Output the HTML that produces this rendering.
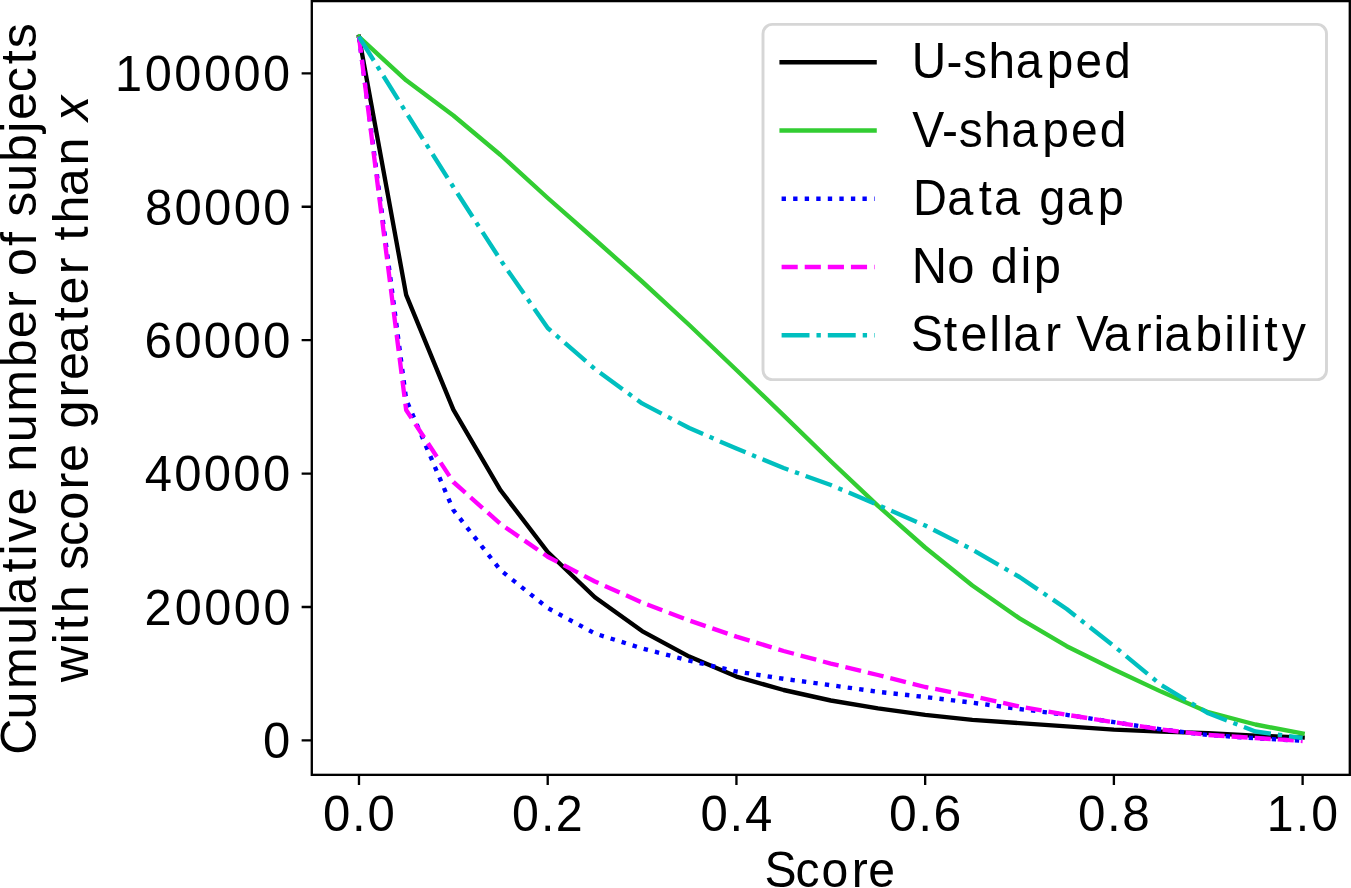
<!DOCTYPE html>
<html><head><meta charset="utf-8"><title>Cumulative number of subjects vs score</title>
<style>
html,body{margin:0;padding:0;background:#fff;}
body{width:1351px;height:888px;overflow:hidden;}
svg{display:block;}
text{font-family:"Liberation Sans",sans-serif;fill:#000;font-kerning:none;}
</style></head>
<body>
<svg width="1351" height="888" viewBox="0 0 1351 888">
<rect x="0" y="0" width="1351" height="888" fill="#ffffff"/>
<clipPath id="ax"><rect x="311.8" y="1.1" width="1038.0" height="773.75"/></clipPath>
<g clip-path="url(#ax)">
<polyline points="358.98,36.80 406.16,294.80 453.34,409.70 500.53,490.30 547.71,552.00 594.89,597.30 642.07,631.10 689.25,656.60 736.44,676.60 783.62,690.00 830.80,700.50 877.98,708.40 925.16,714.90 972.35,719.80 1019.53,723.10 1066.71,726.40 1113.89,729.60 1161.07,731.60 1208.26,733.10 1255.44,735.70 1302.62,737.60" fill="none" stroke="#000000" stroke-width="4.36" stroke-linejoin="round" stroke-linecap="square"/>
<polyline points="358.98,36.80 406.16,80.30 453.34,115.50 500.53,155.00 547.71,198.00 594.89,239.50 642.07,281.50 689.25,325.00 736.44,370.00 783.62,415.40 830.80,461.20 877.98,505.80 925.16,547.50 972.35,585.50 1019.53,618.40 1066.71,646.20 1113.89,669.50 1161.07,691.60 1208.26,712.20 1255.44,724.50 1302.62,733.50" fill="none" stroke="#32cd32" stroke-width="4.36" stroke-linejoin="round" stroke-linecap="square"/>
<polyline points="358.98,36.80 406.16,399.50 453.34,510.00 500.53,570.20 547.71,608.00 594.89,633.50 642.07,648.40 689.25,660.60 736.44,671.50 783.62,678.80 830.80,685.20 877.98,691.80 925.16,697.00 972.35,702.70 1019.53,709.00 1066.71,714.80 1113.89,722.20 1161.07,729.40 1208.26,735.00 1255.44,738.20 1302.62,740.80" fill="none" stroke="#0000ff" stroke-width="4.36" stroke-linejoin="round" stroke-linecap="butt" stroke-dasharray="4.36,7.19"/>
<polyline points="358.98,36.80 406.16,410.00 453.34,482.00 500.53,524.00 547.71,556.70 594.89,581.50 642.07,602.50 689.25,620.50 736.44,636.60 783.62,651.00 830.80,663.60 877.98,675.00 925.16,687.00 972.35,696.20 1019.53,706.50 1066.71,714.80 1113.89,722.20 1161.07,729.40 1208.26,735.00 1255.44,738.00 1302.62,741.00" fill="none" stroke="#ff00ff" stroke-width="4.36" stroke-linejoin="round" stroke-linecap="butt" stroke-dasharray="16.13,6.98"/>
<polyline points="358.98,36.80 406.16,112.50 453.34,187.00 500.53,260.00 547.71,328.00 594.89,369.00 642.07,403.40 689.25,428.00 736.44,448.60 783.62,468.00 830.80,485.00 877.98,505.00 925.16,525.50 972.35,549.60 1019.53,577.00 1066.71,609.00 1113.89,646.00 1161.07,685.00 1208.26,713.30 1255.44,731.50 1302.62,738.00" fill="none" stroke="#00bfbf" stroke-width="4.36" stroke-linejoin="round" stroke-linecap="butt" stroke-dasharray="27.90,6.98,4.36,6.98"/>
</g>
<rect x="311.8" y="1.1" width="1038.0" height="773.75" fill="none" stroke="#000" stroke-width="2.33" stroke-linejoin="miter"/>
<path d="M358.98,774.85V785.02M547.71,774.85V785.02M736.44,774.85V785.02M925.16,774.85V785.02M1113.89,774.85V785.02M1302.62,774.85V785.02M311.80,740.40H301.63M311.80,606.99H301.63M311.80,473.58H301.63M311.80,340.17H301.63M311.80,206.76H301.63M311.80,73.35H301.63" stroke="#000" stroke-width="2.33" fill="none"/>
<rect x="763.0" y="24.4" width="563.50" height="355.20" rx="9.3" ry="9.3" fill="#ffffff" fill-opacity="0.8" stroke="#cccccc" stroke-opacity="0.8" stroke-width="2.9"/>
<path d="M781.6,62.2H874.6" fill="none" stroke="#000000" stroke-width="4.36" stroke-linejoin="round" stroke-linecap="square"/>
<path d="M781.6,130.45H874.6" fill="none" stroke="#32cd32" stroke-width="4.36" stroke-linejoin="round" stroke-linecap="square"/>
<path d="M781.6,198.7H874.6" fill="none" stroke="#0000ff" stroke-width="4.36" stroke-linejoin="round" stroke-linecap="butt" stroke-dasharray="4.36,7.19"/>
<path d="M781.6,266.95H874.6" fill="none" stroke="#ff00ff" stroke-width="4.36" stroke-linejoin="round" stroke-linecap="butt" stroke-dasharray="16.13,6.98"/>
<path d="M781.6,335.2H874.6" fill="none" stroke="#00bfbf" stroke-width="4.36" stroke-linejoin="round" stroke-linecap="butt" stroke-dasharray="27.90,6.98,4.36,6.98"/>
<text transform="scale(0.9817,1)" y="91.35" font-size="49.6" xml:space="preserve"><tspan x="117.03 147.42 177.55 207.69 237.82 267.96">100000</tspan></text>
<text transform="scale(0.9906,1)" y="224.60" font-size="49.6" xml:space="preserve"><tspan x="146.34 176.21 206.07 235.94 265.80">80000</tspan></text>
<text transform="scale(0.9952,1)" y="358.10" font-size="49.6" xml:space="preserve"><tspan x="145.26 174.98 204.71 234.44 264.16">60000</tspan></text>
<text transform="scale(0.9885,1)" y="491.35" font-size="49.6" xml:space="preserve"><tspan x="146.31 176.24 206.17 236.10 266.02">40000</tspan></text>
<text transform="scale(0.9816,1)" y="624.60" font-size="49.6" xml:space="preserve"><tspan x="147.18 177.94 208.08 238.22 268.36">20000</tspan></text>
<text transform="scale(0.9885,1)" y="758.10" font-size="49.6" xml:space="preserve"><tspan x="266.15">0</tspan></text>
<text transform="scale(0.9909,1)" y="830.60" font-size="49.6" xml:space="preserve"><tspan x="326.03 355.31 370.81">0.0</tspan></text>
<text transform="scale(0.9751,1)" y="830.60" font-size="49.6" xml:space="preserve"><tspan x="525.09 554.73 569.96">0.2</tspan></text>
<text transform="scale(0.9909,1)" y="830.60" font-size="49.6" xml:space="preserve"><tspan x="707.02 736.29 751.79">0.4</tspan></text>
<text transform="scale(1.0063,1)" y="830.60" font-size="49.6" xml:space="preserve"><tspan x="883.51 912.44 927.60">0.6</tspan></text>
<text transform="scale(0.9957,1)" y="830.60" font-size="49.6" xml:space="preserve"><tspan x="1082.64 1111.81 1127.20">0.8</tspan></text>
<text transform="scale(0.9719,1)" y="830.60" font-size="49.6" xml:space="preserve"><tspan x="1303.39 1333.35 1349.28">1.0</tspan></text>
<text transform="scale(0.9763,1)" y="887.25" font-size="49.3" xml:space="preserve"><tspan x="783.18 814.69 841.54 872.32 889.40">Score</tspan></text>
<text transform="scale(0.9678,1)" y="78.33" font-size="49.3" xml:space="preserve"><tspan x="942.08 977.92 995.32 1021.38 1049.51 1081.58 1111.39 1141.02">U-shaped</tspan></text>
<text transform="scale(0.9723,1)" y="146.58" font-size="49.3" xml:space="preserve"><tspan x="938.32 968.73 986.03 1011.96 1039.96 1071.88 1101.56 1131.06">V-shaped</tspan></text>
<text transform="scale(0.9520,1)" y="214.83" font-size="49.3" xml:space="preserve"><tspan x="959.06 995.01 1028.09 1044.10 1075.48 1091.57 1120.56 1153.16">Data gap</tspan></text>
<text transform="scale(0.9918,1)" y="283.08" font-size="49.3" xml:space="preserve"><tspan x="919.18 955.17 983.81 999.00 1028.93 1042.36">No dip</tspan></text>
<text transform="scale(0.9813,1)" y="351.33" font-size="49.3" xml:space="preserve"><tspan x="928.16 961.70 978.92 1008.22 1021.38 1032.48 1064.94 1082.65 1096.78 1124.78 1157.24 1175.40 1186.47 1218.10 1247.68 1260.82 1274.01 1288.36 1306.31">Stellar Variability</tspan></text>
<text transform="translate(35.90,0) rotate(-90) scale(1.0182,1)" y="0.00" font-size="49.3" xml:space="preserve"><tspan x="-741.38 -706.71 -676.59 -633.27 -604.13 -593.77 -562.34 -545.53 -532.54 -506.27 -478.19 -463.22 -434.47 -404.36 -360.65 -332.29 -302.60 -285.44 -271.06 -241.62 -226.90 -212.89 -188.33 -159.00 -130.49 -117.95 -90.60 -63.19 -47.37">Cumulative number of subjects</tspan></text>
<text transform="translate(88.10,0) rotate(-90) scale(1.0224,1)" y="0.00" font-size="49.3" xml:space="preserve"><tspan x="-667.43 -630.14 -616.43 -599.81 -571.33 -557.40 -533.93 -508.33 -478.74 -461.65 -433.66 -419.11 -388.73 -371.64 -345.55 -314.22 -297.95 -268.36 -251.26 -235.24 -218.62 -192.05 -161.85 -133.45">with score greater than </tspan><tspan x="-118.37" font-style="italic">x</tspan></text>
</svg>
</body></html>
